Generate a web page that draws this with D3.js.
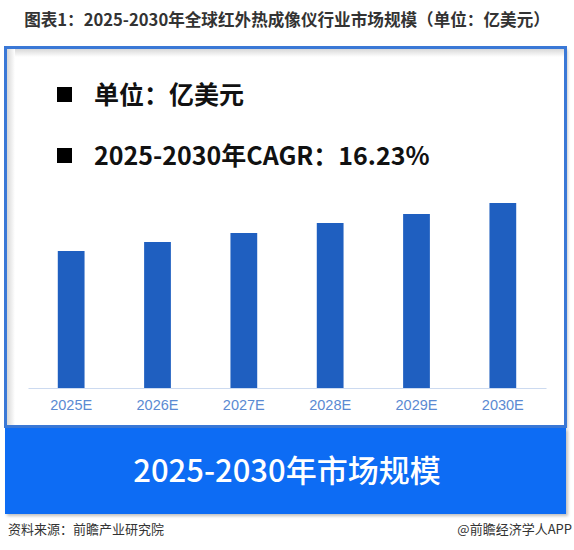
<!DOCTYPE html>
<html>
<head>
<meta charset="utf-8">
<script src="https://cdn.jsdelivr.net/npm/d3@7/dist/d3.min.js"></script>
<style>
  html, body { margin: 0; padding: 0; background: #fff; }
  svg { display: block; }
</style>
</head>
<body>
<svg id="chart" width="574" height="550"></svg>
<script>
// ---- data ----
const categories = ["2025E", "2026E", "2027E", "2028E", "2029E", "2030E"];
const values = [27.4, 29.2, 31.0, 33.0, 34.8, 37.0];   // estimated bar heights (relative)
const title = "图表1：2025-2030年全球红外热成像仪行业市场规模（单位：亿美元）";
const noteLines = ["单位：亿美元", "2025-2030年CAGR：16.23%"];
const bannerText = "2025-2030年市场规模";
const sourceText = "资料来源：前瞻产业研究院";
const creditText = "@前瞻经济学人APP";

const svg = d3.select("#chart");
const CJK = "'Noto Sans CJK SC', 'Noto Sans', sans-serif";

// defs: shadow
const defs = svg.append("defs");
const f = defs.append("filter").attr("id", "shadow").attr("x", "-5%").attr("y", "-5%").attr("width", "110%").attr("height", "110%");
f.append("feDropShadow").attr("dx", 2).attr("dy", 2).attr("stdDeviation", 1.5).attr("flood-color", "#000").attr("flood-opacity", 0.25);
const inner = defs.append("linearGradient").attr("id", "innerTop").attr("x1", 0).attr("y1", 0).attr("x2", 0).attr("y2", 1);
inner.append("stop").attr("offset", "0%").attr("stop-color", "#d8d8d8");
inner.append("stop").attr("offset", "100%").attr("stop-color", "#ffffff");
const innerL = defs.append("linearGradient").attr("id", "innerLeft").attr("x1", 0).attr("y1", 0).attr("x2", 1).attr("y2", 0);
innerL.append("stop").attr("offset", "0%").attr("stop-color", "#d8d8d8");
innerL.append("stop").attr("offset", "100%").attr("stop-color", "#ffffff");

// title
svg.append("text")
  .attr("x", 287).attr("y", 26)
  .attr("text-anchor", "middle")
  .attr("font-family", CJK)
  .attr("font-weight", "bold")
  .attr("font-size", 16.6)
  .attr("fill", "#333")
  .text(title);

// panel
const panel = { x: 5.5, y: 47.5, w: 560, h: 379 };
svg.append("rect")
  .attr("x", panel.x).attr("y", panel.y).attr("width", panel.w).attr("height", panel.h)
  .attr("fill", "#fff").attr("filter", "url(#shadow)");
svg.append("rect")
  .attr("x", panel.x + 1.5).attr("y", panel.y + 1.5).attr("width", panel.w - 3).attr("height", 8)
  .attr("fill", "url(#innerTop)");
svg.append("rect")
  .attr("x", panel.x + 1.5).attr("y", panel.y + 1.5).attr("width", 8).attr("height", panel.h - 3)
  .attr("fill", "url(#innerLeft)");
svg.append("rect")
  .attr("x", panel.x).attr("y", panel.y).attr("width", panel.w).attr("height", panel.h)
  .attr("fill", "none").attr("stroke", "#3a78d6").attr("stroke-width", 3);

// notes
const noteY = [104, 165];
noteLines.forEach((t, i) => {
  svg.append("rect")
    .attr("x", 57).attr("y", noteY[i] - 17).attr("width", 15).attr("height", 15)
    .attr("fill", "#000");
  svg.append("text")
    .attr("x", 94).attr("y", noteY[i])
    .attr("font-family", CJK)
    .attr("font-weight", "bold")
    .attr("font-size", 25)
    .attr("fill", "#111")
    .text(t);
});

// scales
const x = d3.scaleBand().domain(categories).range([28, 546]).paddingInner(0.69).paddingOuter(0.345);
const y = d3.scaleLinear().domain([0, d3.max(values)]).range([388, 203]);

// bars
svg.append("g").selectAll("rect")
  .data(categories)
  .join("rect")
  .attr("x", (d) => x(d))
  .attr("y", (d, i) => y(values[i]))
  .attr("width", x.bandwidth())
  .attr("height", (d, i) => y(0) - y(values[i]))
  .attr("fill", "#1f5fc0");

// axis
const axis = svg.append("g")
  .attr("transform", "translate(0,388)")
  .call(d3.axisBottom(x).tickSize(0).tickPadding(12));
axis.select(".domain").attr("stroke", "#ccdaf0").attr("stroke-width", 1.2);
axis.selectAll("text")
  .attr("font-family", "'Liberation Sans', Arial, sans-serif")
  .attr("font-size", 14.5)
  .attr("fill", "#5b8ad2");

// banner
svg.append("rect")
  .attr("x", 5).attr("y", 428).attr("width", 561).attr("height", 86)
  .attr("fill", "#0a6cf4").attr("filter", "url(#shadow)");
svg.append("text")
  .attr("x", 287).attr("y", 482)
  .attr("text-anchor", "middle")
  .attr("font-family", CJK)
  .attr("font-weight", 500)
  .attr("font-size", 31)
  .attr("fill", "#fff")
  .text(bannerText);

// footer
svg.append("text")
  .attr("x", 8).attr("y", 534)
  .attr("font-family", CJK)
  .attr("font-size", 13)
  .attr("fill", "#333")
  .text(sourceText);
svg.append("text")
  .attr("x", 572).attr("y", 534)
  .attr("text-anchor", "end")
  .attr("font-family", CJK)
  .attr("font-size", 13)
  .attr("fill", "#333")
  .text(creditText);
</script>
</body>
</html>
